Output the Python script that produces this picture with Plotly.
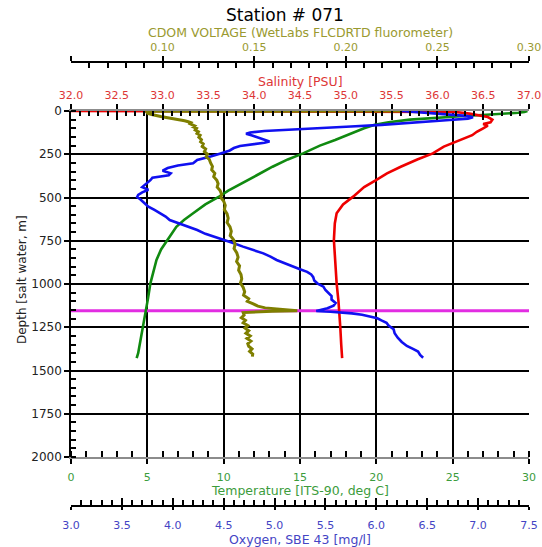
import plotly.graph_objects as go

# ---------------- data ----------------
TITLE = "Station # 071"

TEMP_DEPTH = [0, 5, 10, 15, 22, 30, 40, 50, 65, 80, 100, 130, 168, 200, 245, 280, 322, 370,
              418, 460, 495, 540, 591, 630, 669, 710, 746, 800, 861, 930, 996, 1080, 1155,
              1200, 1250, 1300, 1350, 1400, 1428]
TEMP = [29.9, 29.7, 29.3, 28.6, 27.2, 25.5, 23.5, 22.2, 20.8, 19.9, 19.2, 18.4, 17.3, 16.3,
        15.2, 14.2, 13.2, 12.2, 11.2, 10.3, 9.7, 8.8, 8.0, 7.4, 6.9, 6.6, 6.3, 5.9, 5.6, 5.4,
        5.2, 5.05, 4.9, 4.8, 4.7, 4.6, 4.5, 4.4, 4.3]

SAL_DEPTH = [0, 2, 6, 15, 25, 35, 50, 65, 75, 85, 100, 120, 140, 168, 206, 245, 280, 322,
             360, 399, 440, 495, 540, 591, 650, 746, 850, 996, 1100, 1155, 1250, 1350, 1428]
SAL = [32.0, 35.75, 36.2, 36.35, 36.45, 36.55, 36.6, 36.58, 36.5, 36.55, 36.5, 36.43, 36.38,
       36.25, 36.07, 35.95, 35.78, 35.6, 35.45, 35.33, 35.2, 35.08, 34.97, 34.9, 34.88,
       34.87, 34.88, 34.9, 34.92, 34.93, 34.94, 34.95, 34.96]

OXY_DEPTH = [0, 5, 12, 20, 28, 36, 44, 52, 60, 70, 80, 90, 100, 108, 116, 124, 132, 142,
             154, 166, 176, 184, 192, 202, 214, 228, 245, 262, 283, 302, 315, 330, 345, 360,
             372, 385, 400, 420, 440, 455, 470, 485, 497, 510, 530, 553, 572, 591, 610, 630,
             650, 670, 688, 710, 727, 746, 765, 784, 805, 823, 842, 861, 880, 900, 915, 930,
             945, 960, 980, 996, 1015, 1035, 1050, 1069, 1090, 1110, 1125, 1140, 1150, 1156,
             1160, 1164, 1170, 1178, 1188, 1198, 1210, 1224, 1240, 1262, 1285, 1310, 1335,
             1358, 1375, 1390, 1410, 1426]
OXY = [6.25, 6.35, 6.5, 6.7, 6.88, 6.95, 6.9, 6.72, 6.55, 6.3, 6.05, 5.75, 5.4, 5.15, 4.9,
       4.76, 4.72, 4.78, 4.84, 4.9, 4.95, 4.9, 4.76, 4.66, 4.6, 4.56, 4.47, 4.38, 4.24, 4.2,
       4.05, 3.95, 3.9, 3.98, 3.96, 3.8, 3.78, 3.74, 3.7, 3.76, 3.7, 3.66, 3.65, 3.68, 3.72,
       3.76, 3.82, 3.88, 3.93, 3.97, 4.07, 4.15, 4.24, 4.32, 4.4, 4.5, 4.6, 4.69, 4.8, 4.89,
       4.96, 5.02, 5.1, 5.18, 5.25, 5.32, 5.36, 5.38, 5.39, 5.42, 5.48, 5.5, 5.53, 5.56, 5.56,
       5.6, 5.58, 5.52, 5.45, 5.41, 5.55, 5.66, 5.76, 5.86, 5.95, 6.01, 6.05, 6.1, 6.12, 6.17,
       6.18, 6.21, 6.25, 6.3, 6.36, 6.41, 6.43, 6.46]

CDOM_DEPTH = [0, 2, 8, 14, 20, 26, 32, 38, 44, 50, 56, 62, 68, 74, 80, 86, 92, 100, 110, 120,
              130, 140, 152, 165, 178, 190, 205, 220, 235, 250, 265, 280, 300, 320, 340, 360,
              380, 400, 420, 440, 460, 480, 500, 520, 545, 570, 595, 620, 645, 670, 695, 720,
              745, 770, 795, 820, 845, 870, 895, 920, 945, 970, 995, 1020, 1045, 1065, 1085,
              1100, 1115, 1128, 1138, 1146, 1152, 1155, 1158, 1161, 1165, 1180, 1195, 1210,
              1225, 1240, 1255, 1270, 1285, 1300, 1315, 1330, 1345, 1360, 1375, 1390, 1405,
              1420]
CDOM = [0.230, 0.091, 0.0915, 0.092, 0.094, 0.096, 0.099, 0.102, 0.106, 0.109, 0.112, 0.114,
        0.1155, 0.115, 0.1165, 0.1175, 0.1168, 0.1185, 0.1178, 0.1195, 0.1188, 0.1205, 0.1198,
        0.1212, 0.1207, 0.1222, 0.1216, 0.1235, 0.1228, 0.1245, 0.1238, 0.1255, 0.1262,
        0.1272, 0.1268, 0.1285, 0.1279, 0.1296, 0.1303, 0.1298, 0.1314, 0.1322, 0.1318,
        0.1333, 0.1342, 0.1337, 0.1352, 0.1358, 0.1352, 0.1368, 0.1375, 0.1369, 0.1388,
        0.1396, 0.1390, 0.1405, 0.1412, 0.1404, 0.1420, 0.1415, 0.1428, 0.1432, 0.1425,
        0.1440, 0.1448, 0.1442, 0.1470, 0.1462, 0.1495, 0.1520, 0.1560, 0.1640, 0.1710,
        0.1735, 0.1600, 0.1480, 0.1440, 0.1445, 0.1430, 0.1452, 0.1440, 0.1465, 0.1450,
        0.1470, 0.1455, 0.1478, 0.1460, 0.1482, 0.1465, 0.1470, 0.1488, 0.1475, 0.1492,
        0.1490]

MARKER_DEPTH = 1155

TEMP_RANGE = [0, 30]
SAL_RANGE = [32.0, 37.0]
OXY_RANGE = [3.0, 7.5]
CDOM_RANGE = [0.05, 0.30]
DEPTH_RANGE = [2000, 0]
DEPTH_GRID = [250, 500, 750, 1000, 1250, 1500, 1750]
CDOM_TICKS = [0.05, 0.10, 0.15, 0.20, 0.25, 0.30]
CDOM_TICKTEXT = ["", "0.10", "0.15", "0.20", "0.25", "0.30"]

# ---------------- styling ----------------
FONT = "DejaVu Sans"
GREEN, GREEN_T = "#108a10", "#3c9c3c"
RED, RED_T = "#ee0000", "#dd3636"
BLUE, BLUE_T = "#1010f0", "#4444c4"
OLIVE, OLIVE_T = "#7f7f00", "#9a9a30"
MAGENTA = "#e22de2"

W, H = 542, 547
ML, MR, MT, MB = 71, 13, 62, 41
PLOT_TOP, PLOT_BOT = 111, 457
PH = H - MT - MB
PW = W - ML - MR
YDOM = [(H - MB - PLOT_BOT) / PH, (H - MB - PLOT_TOP) / PH]


def px_y(py):
    return (H - MB - py) / PH


def px_x(px):
    return (px - ML) / PW


fig = go.Figure()
fig.add_trace(go.Scatter(x=TEMP_RANGE, y=[MARKER_DEPTH, MARKER_DEPTH], mode="lines",
                         line=dict(color=MAGENTA, width=3), xaxis="x", yaxis="y"))
fig.add_trace(go.Scatter(x=TEMP, y=TEMP_DEPTH, mode="lines",
                         line=dict(color=GREEN, width=2.6), xaxis="x", yaxis="y"))
fig.add_trace(go.Scatter(x=SAL, y=SAL_DEPTH, mode="lines",
                         line=dict(color=RED, width=2.6), xaxis="x2", yaxis="y"))
fig.add_trace(go.Scatter(x=OXY, y=OXY_DEPTH, mode="lines",
                         line=dict(color=BLUE, width=2.6), xaxis="x3", yaxis="y"))
fig.add_trace(go.Scatter(x=CDOM, y=CDOM_DEPTH, mode="lines",
                         line=dict(color=OLIVE, width=3), xaxis="x4", yaxis="y"))
for ax in ["x5", "x6", "x7"]:
    fig.add_trace(go.Scatter(x=[None], y=[None], mode="lines", xaxis=ax, yaxis="y",
                             hoverinfo="skip"))
fig.add_trace(go.Scatter(x=[None], y=[None], mode="lines", xaxis="x", yaxis="y2",
                         hoverinfo="skip"))

tick_common = dict(tickcolor="black", tickwidth=1.5, zeroline=False, showgrid=False,
                   automargin=False)

fig.update_layout(
    width=W, height=H, margin=dict(l=ML, r=MR, t=MT, b=MB),
    paper_bgcolor="white", plot_bgcolor="white", showlegend=False,
    font=dict(family=FONT, size=11, color="black"),
    # temperature (main bottom axis)
    xaxis=dict(range=TEMP_RANGE, anchor="y", side="bottom", showline=True,
               linecolor="#8c8c8c", linewidth=1.5, dtick=5, tick0=0, ticks="outside",
               ticklen=5, tickcolor="black", tickwidth=1.5, zeroline=False,
               showgrid=True, gridcolor="black", gridwidth=1.5, automargin=False,
               minor=dict(dtick=1, ticks="inside", ticklen=6, tickcolor="black",
                          tickwidth=1.5, showgrid=False),
               tickfont=dict(color=GREEN_T, size=11), ticklabelstandoff=4),
    # salinity (top of the plot)
    xaxis2=dict(range=SAL_RANGE, overlaying="x", anchor="y", side="top", showline=True,
                linecolor="#8c8c8c", linewidth=1.5, dtick=0.5, tick0=32, ticks="outside",
                ticklen=5, tickformat=".1f", tickfont=dict(color=RED_T, size=11),
                ticklabelstandoff=1, **tick_common),
    xaxis5=dict(range=SAL_RANGE, overlaying="x", anchor="y", side="top", showline=False,
                dtick=0.5, tick0=32, ticks="inside", ticklen=9, showticklabels=False,
                minor=dict(dtick=0.1, ticks="inside", ticklen=5, tickcolor="black",
                           tickwidth=1.5), **tick_common),
    # oxygen (free, bottom)
    xaxis3=dict(range=OXY_RANGE, overlaying="x", anchor="free", position=0, side="bottom",
                showline=True, linecolor="black", linewidth=1.5, dtick=0.5, tick0=3,
                ticks="outside", ticklen=3, tickformat=".1f",
                tickfont=dict(color=BLUE_T, size=11), ticklabelstandoff=6, **tick_common),
    xaxis7=dict(range=OXY_RANGE, overlaying="x", anchor="free", position=0, side="bottom",
                showline=False, dtick=0.5, tick0=3, ticks="inside", ticklen=8,
                showticklabels=False,
                minor=dict(dtick=0.1, ticks="inside", ticklen=6, tickcolor="black",
                           tickwidth=1.5), **tick_common),
    # CDOM (free, top)
    xaxis4=dict(range=CDOM_RANGE, overlaying="x", anchor="free", position=1, side="top",
                showline=True, linecolor="black", linewidth=1.5, tickvals=CDOM_TICKS,
                ticktext=CDOM_TICKTEXT, ticks="outside", ticklen=5,
                tickfont=dict(color=OLIVE_T, size=11), ticklabelstandoff=1, **tick_common),
    xaxis6=dict(range=CDOM_RANGE, overlaying="x", anchor="free", position=1, side="top",
                showline=False, dtick=0.01, tick0=0.05, ticks="inside", ticklen=5,
                showticklabels=False, **tick_common),
    # depth
    yaxis=dict(range=DEPTH_RANGE, domain=YDOM, anchor="x", showline=True, linecolor="black",
               linewidth=1.5, dtick=250, tick0=0, ticks="outside", ticklen=5,
               tickcolor="black", tickwidth=1.5, zeroline=False, showgrid=False,
               automargin=False,
               minor=dict(dtick=50, ticks="inside", ticklen=5, tickcolor="black",
                          tickwidth=1.5, showgrid=False),
               tickfont=dict(color="#222222", size=12)),
    # interior depth grid lines
    yaxis2=dict(range=DEPTH_RANGE, domain=YDOM, anchor="x", overlaying="y", side="left",
                tickvals=DEPTH_GRID, showticklabels=False, ticks="", showline=False,
                showgrid=True, gridcolor="black", gridwidth=1.5, zeroline=False,
                automargin=False),
)

ann = [
    dict(text=TITLE, x=px_x(285), y=px_y(15), font=dict(size=17, color="black")),
    dict(text="CDOM VOLTAGE (WetLabs FLCDRTD fluorometer)", x=0.5, y=px_y(33),
         font=dict(size=12.5, color=OLIVE_T)),
    dict(text="Salinity [PSU]", x=0.5, y=px_y(81), font=dict(size=12.5, color=RED_T)),
    dict(text="Temperature [ITS-90, deg C]", x=0.5, y=px_y(490),
         font=dict(size=12.5, color=GREEN_T)),
    dict(text="Oxygen, SBE 43 [mg/l]", x=0.5, y=px_y(539),
         font=dict(size=12.5, color=BLUE_T)),
    dict(text="Depth [salt water, m]", x=px_x(22), y=px_y(280), textangle=-90,
         font=dict(size=12, color="#222222")),
]
for a in ann:
    a.update(xref="paper", yref="paper", showarrow=False, xanchor="center",
             yanchor="middle")
    a["font"].setdefault("family", FONT)
fig.update_layout(annotations=ann)

fig.write_html("out.html")
